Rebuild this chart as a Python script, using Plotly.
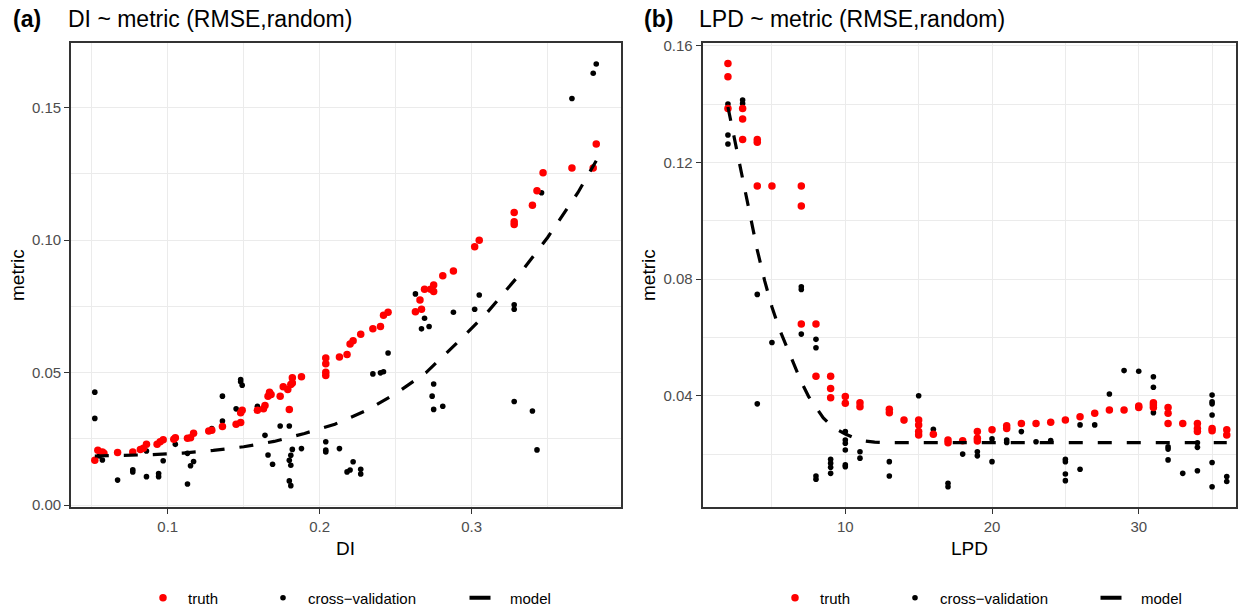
import plotly.graph_objects as go

# ---------------- Panel (a): DI ~ metric ----------------
di_truth_x = [0.052, 0.054, 0.057, 0.058, 0.067, 0.077, 0.082, 0.084, 0.086, 0.093,
              0.095, 0.097, 0.104, 0.105, 0.113, 0.115, 0.117, 0.127, 0.129, 0.136,
              0.145, 0.148, 0.148, 0.149, 0.159, 0.163, 0.164, 0.166, 0.167, 0.168,
              0.174, 0.176, 0.179, 0.180, 0.181, 0.182, 0.182, 0.188, 0.204, 0.204,
              0.204, 0.204, 0.213, 0.218, 0.220, 0.222, 0.227, 0.235, 0.240, 0.242,
              0.245, 0.263, 0.267, 0.266, 0.269, 0.273, 0.275, 0.275, 0.281, 0.288,
              0.302, 0.305, 0.328, 0.328, 0.328, 0.340, 0.343, 0.347, 0.366, 0.380,
              0.382]
di_truth_y = [0.0169, 0.0207, 0.0200, 0.0195, 0.0198, 0.0200, 0.0210, 0.0214, 0.0229, 0.0229,
              0.0239, 0.0246, 0.0248, 0.0254, 0.0252, 0.0254, 0.0271, 0.0279, 0.0282, 0.0296,
              0.0305, 0.0311, 0.0348, 0.0358, 0.0358, 0.0363, 0.0376, 0.0411, 0.0426, 0.0417,
              0.0411, 0.0446, 0.0436, 0.0361, 0.0455, 0.0480, 0.0461, 0.0484, 0.0489, 0.0501,
              0.0533, 0.0555, 0.0559, 0.0568, 0.0608, 0.0620, 0.0645, 0.0665, 0.0674, 0.0716,
              0.0728, 0.0730, 0.0739, 0.0774, 0.0815, 0.0815, 0.0831, 0.0806, 0.0866, 0.0883,
              0.0975, 0.1000, 0.1059, 0.1069, 0.1104, 0.1132, 0.1186, 0.1254, 0.1272, 0.1272,
              0.1363]

di_cv_x = [0.346, 0.366, 0.380, 0.382, 0.263, 0.269, 0.267, 0.272, 0.288, 0.245,
           0.235, 0.240, 0.242, 0.275, 0.274, 0.275, 0.281, 0.302, 0.305, 0.328,
           0.328, 0.328, 0.340, 0.343, 0.213, 0.222, 0.220, 0.218, 0.227, 0.227,
           0.052, 0.052, 0.055, 0.057, 0.067, 0.077, 0.077, 0.086, 0.086, 0.094,
           0.094, 0.097, 0.105, 0.113, 0.113, 0.115, 0.117, 0.129, 0.136, 0.136,
           0.145, 0.148, 0.148, 0.149, 0.159, 0.164, 0.166, 0.169, 0.174, 0.180,
           0.182, 0.181, 0.180, 0.181, 0.180, 0.181, 0.188, 0.204, 0.204, 0.204]
di_cv_y = [0.1179, 0.1535, 0.1630, 0.1665, 0.0797, 0.0705, 0.0665, 0.0674, 0.0728, 0.0574,
           0.0495, 0.0499, 0.0503, 0.0457, 0.0411, 0.0361, 0.0373, 0.0739, 0.0793, 0.0756,
           0.0739, 0.0391, 0.0355, 0.0208, 0.0213, 0.0163, 0.0132, 0.0125, 0.0135, 0.0117,
           0.0426, 0.0327, 0.0185, 0.0170, 0.0094, 0.0133, 0.0125, 0.0107, 0.0204, 0.0119,
           0.0107, 0.0167, 0.0229, 0.0195, 0.0079, 0.0148, 0.0164, 0.0289, 0.0411, 0.0317,
           0.0363, 0.0474, 0.0465, 0.0452, 0.0373, 0.0263, 0.0189, 0.0154, 0.0298, 0.0298,
           0.0210, 0.0188, 0.0169, 0.0150, 0.0091, 0.0073, 0.0213, 0.0239, 0.0207, 0.0200]

di_model_x = [0.052, 0.07, 0.09, 0.11, 0.13, 0.15, 0.17, 0.19, 0.21, 0.23,
              0.25, 0.27, 0.29, 0.31, 0.33, 0.35, 0.37, 0.382]
di_model_y = [0.0185, 0.0186, 0.0190, 0.0196, 0.0206, 0.0220, 0.0240, 0.0270, 0.0305, 0.0355,
              0.0420, 0.0500, 0.0610, 0.0725, 0.0860, 0.1010, 0.1180, 0.1300]

# ---------------- Panel (b): LPD ~ metric ----------------
lpd_truth_x = [2, 2, 2, 3, 3, 3, 4, 4, 4, 5,
               7, 7, 7, 8, 8, 9, 9, 9, 10, 10,
               11, 11, 13, 13, 14, 15, 15, 15, 15, 16,
               17, 17, 18, 19, 19, 19, 20, 21, 21, 22,
               23, 24, 25, 26, 27, 28, 29, 30, 30, 31,
               31, 31, 32, 32, 32, 33, 34, 34, 34, 35,
               35, 36, 36]
lpd_truth_y = [0.1539, 0.1494, 0.1385, 0.1385, 0.1349, 0.1279, 0.1279, 0.1269, 0.1119, 0.1119,
               0.1119, 0.1051, 0.0647, 0.0647, 0.0468, 0.0468, 0.0426, 0.0394, 0.0398, 0.0375,
               0.0377, 0.0363, 0.0355, 0.0343, 0.0318, 0.0318, 0.0301, 0.0278, 0.0266, 0.0269,
               0.0249, 0.0240, 0.0247, 0.0278, 0.0255, 0.0246, 0.0284, 0.0298, 0.0289, 0.0306,
               0.0306, 0.0310, 0.0318, 0.0329, 0.0341, 0.0352, 0.0352, 0.0366, 0.0361, 0.0377,
               0.0369, 0.0361, 0.0361, 0.0341, 0.0306, 0.0306, 0.0306, 0.0289, 0.0278, 0.0289,
               0.0281, 0.0284, 0.0266]

lpd_cv_x = [2, 2, 2, 3, 3, 4, 4, 5, 7, 7,
            7, 8, 8, 8, 8, 9, 9, 9, 9, 10,
            10, 10, 10, 10, 10, 11, 11, 13, 13, 14,
            15, 16, 17, 17, 18, 19, 19, 20, 20, 21,
            21, 22, 23, 24, 25, 25, 25, 25, 26, 26,
            27, 28, 29, 30, 31, 31, 31, 32, 32, 32,
            33, 34, 34, 34, 35, 35, 35, 35, 35, 35,
            36, 36]
lpd_cv_y = [0.1400, 0.1294, 0.1263, 0.1414, 0.1402, 0.0748, 0.0373, 0.0583, 0.0774, 0.0765,
            0.0612, 0.0594, 0.0565, 0.0126, 0.0115, 0.0183, 0.0170, 0.0156, 0.0135, 0.0278,
            0.0249, 0.0238, 0.0215, 0.0164, 0.0158, 0.0209, 0.0187, 0.0175, 0.0126, 0.0316,
            0.0401, 0.0286, 0.0101, 0.0089, 0.0201, 0.0209, 0.0195, 0.0253, 0.0175, 0.0249,
            0.0241, 0.0278, 0.0243, 0.0247, 0.0183, 0.0175, 0.0133, 0.0110, 0.0301, 0.0149,
            0.0301, 0.0407, 0.0487, 0.0485, 0.0466, 0.0430, 0.0343, 0.0226, 0.0218, 0.0181,
            0.0135, 0.0240, 0.0224, 0.0144, 0.0403, 0.0380, 0.0373, 0.0335, 0.0172, 0.0089,
            0.0124, 0.0107]

lpd_model_x = [2, 2.5, 3, 3.5, 4, 4.5, 5, 5.5, 6, 6.5, 7, 7.5, 8, 8.5, 9, 9.5,
               10, 11, 12, 13, 20, 36]
lpd_model_y = [0.139, 0.1265, 0.114, 0.1015, 0.090, 0.0795, 0.0705, 0.063, 0.0568, 0.0508,
               0.0448, 0.0398, 0.036, 0.0325, 0.030, 0.0283, 0.027, 0.0248, 0.0242, 0.024,
               0.024, 0.024]

legend_labels = ["truth", "cross\u2212validation", "model"]
panel_titles = ["DI ~ metric (RMSE,random)", "LPD ~ metric (RMSE,random)"]
panel_tags = ["(a)", "(b)"]
x_titles = ["DI", "LPD"]

# ---------------- styling ----------------
W, H = 1240, 608
FONT = "Liberation Sans, Arial, Helvetica, sans-serif"
RED, BLACK = "#FF0000", "#000000"
GRID = "#EBEBEB"

def px_x(p):
    return p / W

def px_y(p):
    return 1 - p / H

fig = go.Figure()

panels = [
    dict(xa="x", ya="y", tx=di_truth_x, ty=di_truth_y, cx=di_cv_x, cy=di_cv_y,
         mx=di_model_x, my=di_model_y, leg=("legend", "legend2", "legend3"),
         dots=(163, 283, 480)),
    dict(xa="x2", ya="y2", tx=lpd_truth_x, ty=lpd_truth_y, cx=lpd_cv_x, cy=lpd_cv_y,
         mx=lpd_model_x, my=lpd_model_y, leg=("legend4", "legend5", "legend6"),
         dots=(795, 915, 1111)),
]

for p in panels:
    fig.add_trace(go.Scatter(x=p["cx"], y=p["cy"], mode="markers", name=legend_labels[1],
                             marker=dict(color=BLACK, size=5.6), xaxis=p["xa"], yaxis=p["ya"],
                             legend=p["leg"][1], showlegend=True))
    fig.add_trace(go.Scatter(x=p["tx"], y=p["ty"], mode="markers", name=legend_labels[0],
                             marker=dict(color=RED, size=7.5), xaxis=p["xa"], yaxis=p["ya"],
                             legend=p["leg"][0], showlegend=True))
    fig.add_trace(go.Scatter(x=p["mx"], y=p["my"], mode="lines", name=legend_labels[2],
                             line=dict(color=BLACK, width=3.2, dash="14px,15px"),
                             xaxis=p["xa"], yaxis=p["ya"], showlegend=False))
    # legend key for the model line (short solid bar like ggplot key)
    fig.add_trace(go.Scatter(x=[None], y=[None], mode="markers", name=legend_labels[2],
                             marker=dict(symbol="line-ew", size=15, color=BLACK,
                                         line=dict(color=BLACK, width=4)),
                             xaxis=p["xa"], yaxis=p["ya"], legend=p["leg"][2], showlegend=True))

axis_common = dict(
    showgrid=True, gridcolor=GRID, gridwidth=1.4,
    showline=True, linecolor="#333333", linewidth=1.6, mirror=True,
    ticks="outside", ticklen=5, tickwidth=1.4, tickcolor="#333333",
    tickfont=dict(family=FONT, size=15, color="#4D4D4D"),
    zeroline=False, automargin=False,
)

fig.update_layout(
    width=W, height=H,
    margin=dict(l=0, r=0, t=0, b=0, autoexpand=False),
    paper_bgcolor="white", plot_bgcolor="white",
    font=dict(family=FONT, color="black"),
    xaxis=dict(domain=[px_x(71), px_x(620.5)], range=[0.03634, 0.39796],
               tickvals=[0.1, 0.2, 0.3], ticktext=["0.1", "0.2", "0.3"],
               minor=dict(tickvals=[0.05, 0.15, 0.25, 0.35], showgrid=True,
                          gridcolor=GRID, gridwidth=0.8, ticks=""),
               anchor="y", **axis_common),
    yaxis=dict(domain=[px_y(507.3), px_y(43)], range=[-0.00087, 0.17443],
               tickvals=[0.0, 0.05, 0.10, 0.15], ticktext=["0.00", "0.05", "0.10", "0.15"],
               minor=dict(tickvals=[0.025, 0.075, 0.125], showgrid=True,
                          gridcolor=GRID, gridwidth=0.8, ticks=""),
               anchor="x", **axis_common),
    xaxis2=dict(domain=[px_x(702.5), px_x(1236)], range=[0.266, 36.63],
                tickvals=[10, 20, 30], ticktext=["10", "20", "30"],
                minor=dict(tickvals=[5, 15, 25, 35], showgrid=True,
                           gridcolor=GRID, gridwidth=0.8, ticks=""),
                anchor="y2", **axis_common),
    yaxis2=dict(domain=[px_y(507.3), px_y(43)], range=[0.00187, 0.16092],
                tickvals=[0.04, 0.08, 0.12, 0.16], ticktext=["0.04", "0.08", "0.12", "0.16"],
                minor=dict(tickvals=[0.02, 0.06, 0.10, 0.14], showgrid=True,
                           gridcolor=GRID, gridwidth=0.8, ticks=""),
                anchor="x2", **axis_common),
)

# legends: one per entry so each key sits where ggplot put it
legend_layout = {}
for p in panels:
    for i, (name, cx) in enumerate(zip(p["leg"], p["dots"])):
        iw = 50 if i == 2 else 40
        legend_layout[name] = dict(
            x=px_x(cx - iw / 2 - 5), y=px_y(598), orientation="h",
            xanchor="left", yanchor="middle", bgcolor="rgba(0,0,0,0)", borderwidth=0,
            itemwidth=iw, font=dict(family=FONT, size=15, color="black"),
            itemclick=False, itemdoubleclick=False)
fig.update_layout(**legend_layout)

annotations = []
for tag, title, tx, ttx in [(panel_tags[0], panel_titles[0], 11, 66),
                            (panel_tags[1], panel_titles[1], 642, 697)]:
    annotations.append(dict(text="<b>%s</b>" % tag, x=px_x(tx), y=px_y(19), xref="paper", yref="paper",
                            xanchor="left", yanchor="middle", showarrow=False,
                            font=dict(family=FONT, size=23, color="black")))
    annotations.append(dict(text=title, x=px_x(ttx), y=px_y(19), xref="paper", yref="paper",
                            xanchor="left", yanchor="middle", showarrow=False,
                            font=dict(family=FONT, size=23, color="black")))
for t, cx in zip(x_titles, [345.75, 969.25]):
    annotations.append(dict(text=t, x=px_x(cx), y=px_y(548), xref="paper", yref="paper",
                            xanchor="center", yanchor="middle", showarrow=False,
                            font=dict(family=FONT, size=19, color="black")))
for cx in [17, 648]:
    annotations.append(dict(text="metric", x=px_x(cx), y=px_y(275), xref="paper", yref="paper",
                            xanchor="center", yanchor="middle", showarrow=False, textangle=-90,
                            font=dict(family=FONT, size=19, color="black")))
fig.update_layout(annotations=annotations)

fig.write_html("out.html")
